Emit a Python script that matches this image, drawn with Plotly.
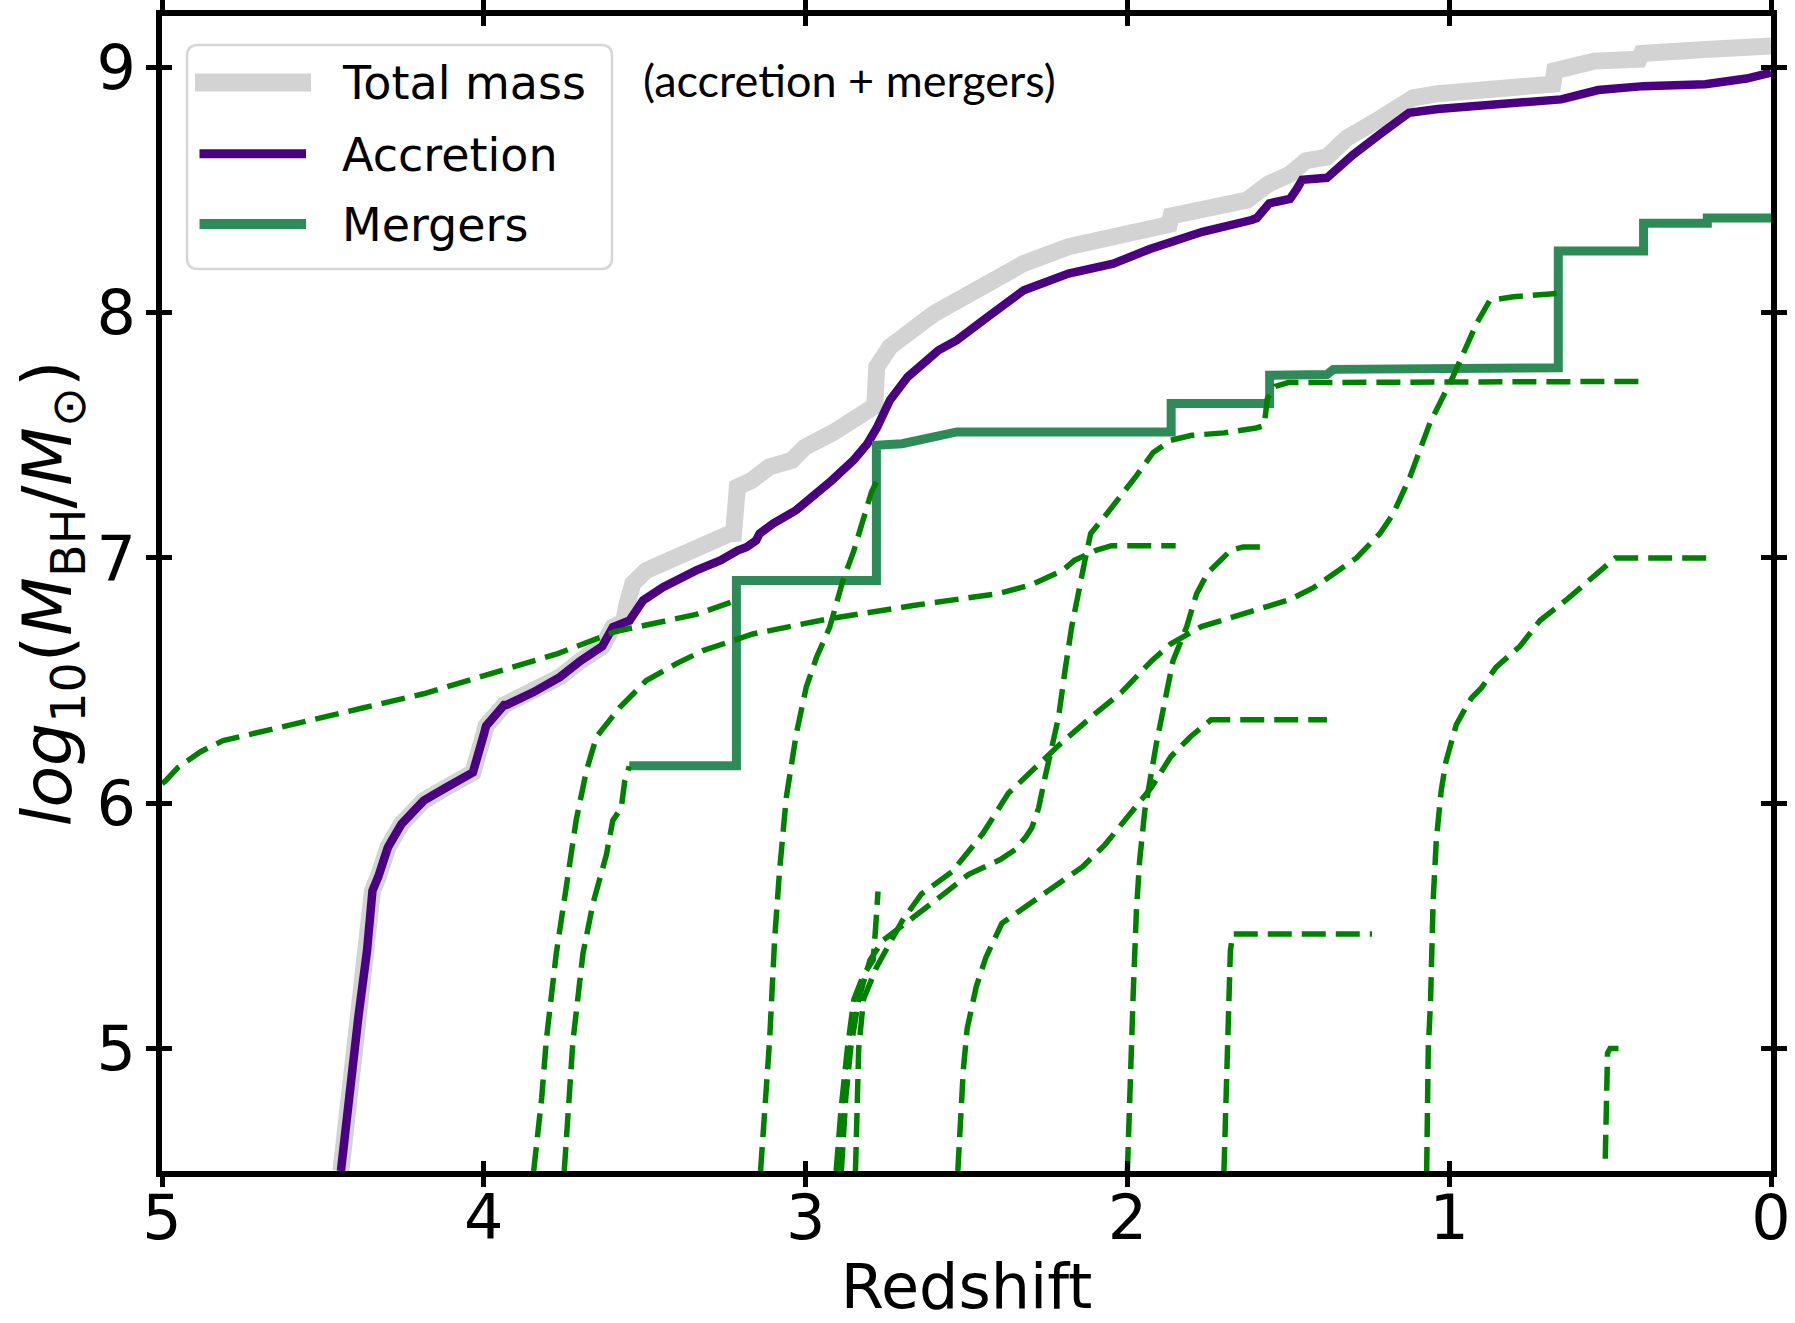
import plotly.graph_objects as go

# ---------------- data (redshift, log10 M_BH/Msun) ----------------
acc_z = [4.444, 4.417, 4.39, 4.363, 4.346, 4.328, 4.298, 4.256, 4.20, 4.187, 4.117, 4.096, 4.048,
         4.034, 4.0, 3.993, 3.937, 3.93, 3.847, 3.764, 3.70, 3.632, 3.599, 3.547, 3.505, 3.443,
         3.34, 3.265, 3.21, 3.184, 3.154, 3.143, 3.101, 3.085, 3.03, 2.919, 2.85, 2.808, 2.779,
         2.738, 2.683, 2.587, 2.53, 2.434, 2.322, 2.183, 2.044, 1.93, 1.85, 1.767, 1.614, 1.598,
         1.559, 1.495, 1.476, 1.457, 1.38, 1.30, 1.214, 1.125, 1.035, 0.78, 0.652, 0.537, 0.396,
         0.204, 0.076, 0.0]
acc_m = [4.5, 4.854, 5.126, 5.398, 5.643, 5.70, 5.82, 5.915, 5.983, 6.01, 6.064, 6.079, 6.119,
         6.125, 6.28, 6.315, 6.40, 6.40, 6.452, 6.514, 6.58, 6.64, 6.718, 6.745, 6.827, 6.881,
         6.949, 6.99, 7.031, 7.044, 7.071, 7.099, 7.14, 7.153, 7.194, 7.316, 7.40, 7.466, 7.53,
         7.643, 7.738, 7.847, 7.888, 7.983, 8.092, 8.16, 8.20, 8.26, 8.29, 8.33, 8.378, 8.386,
         8.446, 8.464, 8.50, 8.542, 8.55, 8.643, 8.729, 8.815, 8.831, 8.854, 8.87, 8.908, 8.924,
         8.932, 8.955, 8.979]

tot_z = [4.444, 4.417, 4.39, 4.363, 4.346, 4.328, 4.298, 4.256, 4.20, 4.187, 4.117, 4.096, 4.048,
         4.034, 4.0, 3.993, 3.937, 3.847, 3.764, 3.70, 3.632, 3.599, 3.565, 3.557, 3.537, 3.495,
         3.432, 3.391, 3.335, 3.265, 3.236, 3.224, 3.212, 3.168, 3.113, 3.043, 3.002, 2.912, 2.808,
         2.785, 2.779, 2.738, 2.60, 2.461, 2.322, 2.183, 2.044, 1.93, 1.87, 1.864, 1.80, 1.628,
         1.573, 1.56, 1.495, 1.47, 1.445, 1.38, 1.317, 1.214, 1.112, 1.035, 0.78, 0.678, 0.672,
         0.55, 0.41, 0.402, 0.204, 0.0]
tot_m = [4.5, 4.854, 5.126, 5.398, 5.643, 5.70, 5.82, 5.915, 5.983, 6.01, 6.064, 6.079, 6.119,
         6.125, 6.28, 6.315, 6.40, 6.452, 6.514, 6.58, 6.64, 6.718, 6.74, 6.80, 6.895, 6.949,
         6.99, 7.003, 7.044, 7.085, 7.099, 7.10, 7.289, 7.316, 7.371, 7.398, 7.452, 7.513, 7.61,
         7.62, 7.779, 7.861, 7.997, 8.106, 8.201, 8.269, 8.31, 8.338, 8.36, 8.395, 8.41, 8.459,
         8.514, 8.526, 8.565, 8.60, 8.62, 8.635, 8.713, 8.792, 8.876, 8.893, 8.916, 8.932, 8.987,
         9.026, 9.034, 9.057, 9.073, 9.088]

mrg_z = [3.548, 3.215, 3.215, 2.78, 2.78, 2.70, 2.53, 1.864, 1.864, 1.558, 1.558, 1.38, 1.36,
         0.661, 0.661, 0.396, 0.396, 0.198, 0.198, 0.0]
mrg_m = [6.153, 6.153, 6.908, 6.908, 7.46, 7.466, 7.514, 7.514, 7.63, 7.63, 7.745, 7.748, 7.769,
         7.775, 8.252, 8.252, 8.365, 8.365, 8.386, 8.386]

# individual progenitor black holes (dashed)
p1_z = [5.0, 4.99, 4.95, 4.88, 4.81, 4.70, 4.60, 4.37, 4.187, 3.98, 3.77, 3.59, 3.34, 3.215]
p1_m = [6.08, 6.09, 6.146, 6.21, 6.255, 6.29, 6.32, 6.39, 6.446, 6.53, 6.61, 6.70, 6.77, 6.827]

p2_z = [3.845, 3.82, 3.806, 3.775, 3.744, 3.713, 3.681, 3.65, 3.578, 3.495, 3.40, 3.319, 3.164,
        2.935, 2.666, 2.40, 2.30, 2.20, 2.165, 2.10, 2.05, 1.85]
p2_m = [4.5, 4.8, 5.03, 5.385, 5.656, 5.93, 6.133, 6.27, 6.39, 6.50, 6.57, 6.622, 6.69,
        6.75, 6.806, 6.855, 6.89, 6.95, 6.99, 7.03, 7.05, 7.05]

p3_z = [3.75, 3.735, 3.723, 3.692, 3.661, 3.619, 3.599, 3.573, 3.562, 3.548]
p3_m = [4.5, 4.8, 5.03, 5.385, 5.59, 5.79, 5.93, 5.98, 6.09, 6.15]

p4_z = [3.14, 3.125, 3.112, 3.096, 3.081, 3.06, 3.029, 2.998, 2.966, 2.925, 2.884, 2.85, 2.822,
        2.795, 2.78]
p4_m = [4.5, 4.8, 5.03, 5.45, 5.724, 6.023, 6.282, 6.473, 6.595, 6.718, 6.908, 7.03, 7.153,
        7.27, 7.31]

p5_z = [2.889, 2.875, 2.86, 2.835, 2.80, 2.76, 2.72, 2.647, 2.58, 2.493, 2.395, 2.349, 2.317,
        2.297, 2.276, 2.256, 2.235, 2.214, 2.194, 2.173, 2.132, 2.114, 2.07, 2.02, 1.975, 1.92,
        1.865, 1.80, 1.70, 1.60, 1.575, 1.565, 1.54, 1.50, 0.40]
p5_m = [4.5, 4.8, 5.0, 5.2, 5.36, 5.44, 5.48, 5.55, 5.62, 5.71, 5.77, 5.81, 5.86,
        5.90, 5.98, 6.105, 6.23, 6.35, 6.54, 6.72, 6.99, 7.10, 7.17, 7.25, 7.33, 7.43,
        7.48, 7.50, 7.51, 7.53, 7.54, 7.65, 7.70, 7.715, 7.72]

p6_z = [1.07, 1.065, 1.058, 1.05, 1.04, 1.025, 1.01, 0.995, 0.978, 0.957, 0.93, 0.90, 0.854,
        0.78, 0.718, 0.635, 0.563, 0.50, 0.484, 0.20]
p6_m = [4.5, 5.0, 5.19, 5.6, 5.85, 6.05, 6.17, 6.24, 6.32, 6.37, 6.43, 6.47, 6.555,
        6.64, 6.745, 6.83, 6.91, 6.98, 7.0, 7.0]

p7_z = [2.0, 1.993, 1.982, 1.972, 1.962, 1.946, 1.93, 1.91, 1.879, 1.858, 1.816, 1.785, 1.75,
        1.713, 1.68, 1.64, 1.57]
p7_m = [4.5, 4.867, 5.221, 5.561, 5.765, 5.969, 6.105, 6.242, 6.446, 6.582, 6.718, 6.854, 6.94,
        6.99, 7.03, 7.045, 7.045]

p8_z = [2.845, 2.835, 2.82, 2.78, 2.70, 2.64, 2.545, 2.45, 2.37, 2.30, 2.21, 2.10, 2.02, 1.925,
        1.865, 1.77, 1.615, 1.495, 1.42, 1.34, 1.288, 1.215, 1.174, 1.122, 1.06, 0.988, 0.915,
        0.874, 0.80, 0.666]
p8_m = [4.5, 5.0, 5.2, 5.33, 5.52, 5.63, 5.72, 5.875, 6.04, 6.13, 6.24, 6.365, 6.45, 6.58,
        6.65, 6.72, 6.785, 6.83, 6.88, 6.95, 7.0, 7.10, 7.18, 7.33, 7.55, 7.74, 7.956,
        8.05, 8.065, 8.078]

p9_z = [2.527, 2.515, 2.51, 2.498, 2.47, 2.44, 2.39, 2.32, 2.235, 2.14, 2.07, 1.99, 1.925, 1.865,
        1.805, 1.74, 1.38]
p9_m = [4.5, 4.8, 4.91, 5.08, 5.25, 5.37, 5.51, 5.575, 5.655, 5.74, 5.83, 5.96, 6.065, 6.19,
        6.27, 6.34, 6.34]

p10_z = [1.70, 1.69, 1.68, 1.672, 1.24]
p10_m = [4.5, 5.0, 5.40, 5.466, 5.466]

p11_z = [0.515, 0.512, 0.508, 0.50, 0.474]
p11_m = [4.55, 4.8, 4.98, 5.0, 5.0]

p12_z = [2.905, 2.89, 2.87, 2.85, 2.82, 2.79, 2.782, 2.775]
p12_m = [4.5, 4.75, 5.0, 5.2, 5.30, 5.36, 5.5, 5.64]

progenitors = [(p1_z, p1_m), (p2_z, p2_m), (p3_z, p3_m), (p4_z, p4_m), (p5_z, p5_m),
               (p6_z, p6_m), (p7_z, p7_m), (p8_z, p8_m), (p9_z, p9_m), (p10_z, p10_m),
               (p11_z, p11_m), (p12_z, p12_m)]

x_ticks = [5, 4, 3, 2, 1, 0]
y_ticks = [5, 6, 7, 8, 9]

legend_labels = ['Total mass', 'Accretion', 'Mergers']
legend_colors = ['#d3d3d3', '#4b0082', '#2e8b57']
legend_widths = [18, 9, 10]

# ---------------- geometry helpers (pixel -> paper) ----------------
W, H = 1795, 1323
ML, MR, MT, MB = 162, 24, 16, 152
PW, PH = W - ML - MR, H - MT - MB


def px(x):
    return (x - ML) / PW


def py(y):
    return (H - MB - y) / PH


# ---------------- figure ----------------
fig = go.Figure()
fig.add_trace(go.Scatter(x=tot_z, y=tot_m, mode='lines', name=legend_labels[0], showlegend=False,
                         line=dict(color=legend_colors[0], width=17)))
fig.add_trace(go.Scatter(x=acc_z, y=acc_m, mode='lines', name=legend_labels[1], showlegend=False,
                         line=dict(color=legend_colors[1], width=8.5)))
fig.add_trace(go.Scatter(x=mrg_z, y=mrg_m, mode='lines', name=legend_labels[2], showlegend=False,
                         line=dict(color=legend_colors[2], width=9)))
for pz, pm in progenitors:
    fig.add_trace(go.Scatter(x=pz, y=pm, mode='lines', showlegend=False,
                             line=dict(color='#008000', width=5.5, dash='24px,10px')))
# helper trace for the inward tick axes
fig.add_trace(go.Scatter(x=[None], y=[None], xaxis='x2', yaxis='y2', showlegend=False,
                         hoverinfo='skip'))

axis_common = dict(showline=True, linewidth=5.5, linecolor='black', showgrid=False,
                   zeroline=False, tickwidth=5, ticklen=10, tickcolor='black', automargin=False)

# legend drawn as a framed box with sample lines and labels
bx0, bx1, by0, by1, rr = 187, 612, 45, 269, 11
rx, ry = rr / PW, rr / PH
box_path = (f"M{px(bx0)+rx},{py(by0)} L{px(bx1)-rx},{py(by0)} Q{px(bx1)},{py(by0)} {px(bx1)},{py(by0)-ry} "
            f"L{px(bx1)},{py(by1)+ry} Q{px(bx1)},{py(by1)} {px(bx1)-rx},{py(by1)} "
            f"L{px(bx0)+rx},{py(by1)} Q{px(bx0)},{py(by1)} {px(bx0)},{py(by1)+ry} "
            f"L{px(bx0)},{py(by0)-ry} Q{px(bx0)},{py(by0)} {px(bx0)+rx},{py(by0)} Z")
shapes = [dict(type='path', path=box_path, xref='paper', yref='paper', fillcolor='white',
               line=dict(color='#d6d6d6', width=2.5), layer='above')]
row_y = [82.5, 153.7, 224]
sample_x = [(195, 311), (199.5, 306), (199.5, 306)]
annotations = []
for lab, col, lw, yy, (sx0, sx1) in zip(legend_labels, legend_colors, legend_widths, row_y, sample_x):
    shapes.append(dict(type='line', xref='paper', yref='paper', x0=px(sx0), x1=px(sx1),
                       y0=py(yy), y1=py(yy), line=dict(color=col, width=lw), layer='above'))
    annotations.append(dict(text=lab, xref='paper', yref='paper', x=px(340), y=py(yy + 1),
                            xanchor='left', yanchor='middle', showarrow=False,
                            font=dict(family='DejaVu Sans', size=46, color='black')))
annotations.append(dict(text='(accretion + mergers)', xref='paper', yref='paper',
                        x=px(641), y=py(80.5), xanchor='left', yanchor='middle', showarrow=False,
                        font=dict(family='Lato', size=45, color='black')))

fig.update_layout(
    width=W, height=H,
    margin=dict(l=ML, r=MR, t=MT, b=MB),
    plot_bgcolor='white', paper_bgcolor='white',
    font=dict(family='DejaVu Sans', color='black', size=62),
    showlegend=False,
    xaxis=dict(range=[5, 0], tickvals=x_ticks, ticks='outside', mirror='ticks',
               tickfont=dict(size=62), ticklabelstandoff=-22,
               title=dict(text='Redshift', font=dict(size=62), standoff=26),
               **axis_common),
    yaxis=dict(range=[4.5, 9.21], tickvals=y_ticks, ticks='outside', mirror='ticks',
               tickfont=dict(size=62), ticklabelstandoff=-2,
               title=dict(text='<i>log</i><sub>10</sub>(<i>M</i><sub>BH</sub>/<i>M</i><sub>⊙</sub>)',
                          font=dict(size=68), standoff=0),
               **axis_common),
    xaxis2=dict(range=[5, 0], tickvals=x_ticks, ticks='inside', mirror='ticks',
                overlaying='x', anchor='y2', side='bottom', showticklabels=False, **axis_common),
    yaxis2=dict(range=[4.5, 9.21], tickvals=y_ticks, ticks='inside', mirror='ticks',
                overlaying='y', anchor='x2', side='left', showticklabels=False, **axis_common),
    shapes=shapes,
    annotations=annotations,
)

fig.write_html('out.html')
